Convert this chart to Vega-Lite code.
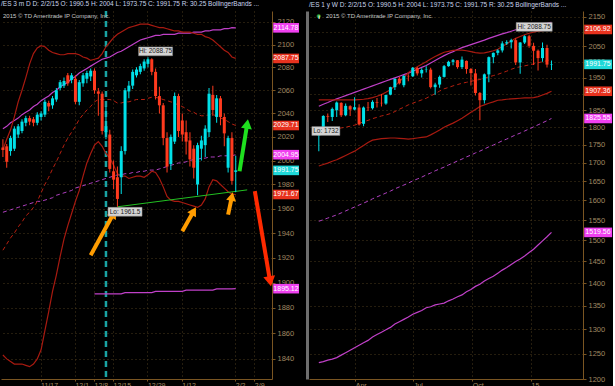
{
"$schema": "https://vega.github.io/schema/vega-lite/v6.json",
"background": "#000000",
"padding": 0,
"spacing": 37,
"bounds": "flush",
"config": {
 "view": {"stroke": null},
 "font": "Liberation Sans",
 "title": {"anchor": "start", "fontSize": 6.5, "color": "#c8d4ec", "fontWeight": "normal", "offset": 2.5, "frame": "group", "limit": 298},
 "axis": {"domainColor": "#7a5522", "tickColor": "#7a5522", "labelColor": "#a08862", "labelFont": "Liberation Sans", "gridColor": "#4a3a1c", "gridDash": [1, 3], "title": null, "tickSize": 3, "labelFlush": false, "labelOverlap": false}
},
"datasets": {
 "daily": [
{"d":"11/3","o":2011,"h":2018,"l":2003,"c":2009,"bu":2009,"bm":1926,"bl":1843,"mu":2027,"mm":1957},
{"d":"11/4","o":2012,"h":2014,"l":1994,"c":1999,"bu":2018,"bm":1931,"bl":1840,"mu":2029,"mm":1958},
{"d":"11/5","o":2008,"h":2021,"l":2004,"c":2019,"bu":2026,"bm":1936,"bl":1838,"mu":2032,"mm":1959},
{"d":"11/6","o":2010,"h":2029,"l":2008,"c":2027,"bu":2037,"bm":1940,"bl":1836,"mu":2034,"mm":1960},
{"d":"11/7","o":2022,"h":2031,"l":2019,"c":2029,"bu":2050,"bm":1945,"bl":1836,"mu":2036,"mm":1961},
{"d":"11/10","o":2025,"h":2035,"l":2023,"c":2033,"bu":2060,"bm":1949,"bl":1836,"mu":2039,"mm":1962},
{"d":"11/11","o":2032,"h":2038,"l":2029,"c":2036,"bu":2071,"bm":1954,"bl":1835,"mu":2041,"mm":1963},
{"d":"11/12","o":2036,"h":2038,"l":2030,"c":2033,"bu":2083,"bm":1957,"bl":1834,"mu":2043,"mm":1964},
{"d":"11/13","o":2035,"h":2037,"l":2029,"c":2032,"bu":2092,"bm":1961,"bl":1836,"mu":2046,"mm":1965},
{"d":"11/14","o":2032,"h":2041,"l":2030,"c":2039,"bu":2097,"bm":1966,"bl":1840,"mu":2048,"mm":1966},
{"d":"11/17","o":2037,"h":2042,"l":2034,"c":2040,"bu":2099,"bm":1973,"bl":1847,"mu":2051,"mm":1966},
{"d":"11/18","o":2039,"h":2052,"l":2037,"c":2050,"bu":2098,"bm":1980,"bl":1862,"mu":2053,"mm":1967},
{"d":"11/19","o":2049,"h":2051,"l":2042,"c":2046,"bu":2095,"bm":1986,"bl":1877,"mu":2055,"mm":1968},
{"d":"11/20","o":2047,"h":2055,"l":2044,"c":2053,"bu":2093,"bm":1993,"bl":1893,"mu":2058,"mm":1969},
{"d":"11/21","o":2052,"h":2062,"l":2050,"c":2060,"bu":2092,"bm":1999,"bl":1906,"mu":2060,"mm":1971},
{"d":"11/24","o":2062,"h":2069,"l":2060,"c":2067,"bu":2091,"bm":2006,"bl":1921,"mu":2063,"mm":1972},
{"d":"11/25","o":2064,"h":2071,"l":2062,"c":2068,"bu":2091,"bm":2013,"bl":1935,"mu":2065,"mm":1973},
{"d":"11/26","o":2073,"h":2075,"l":2064,"c":2066,"bu":2092,"bm":2019,"bl":1946,"mu":2067,"mm":1974},
{"d":"11/28","o":2069,"h":2075,"l":2066,"c":2073,"bu":2092,"bm":2024,"bl":1956,"mu":2070,"mm":1975},
{"d":"12/1","o":2070,"h":2073,"l":2048,"c":2050,"bu":2092,"bm":2029,"bl":1966,"mu":2072,"mm":1977},
{"d":"12/2","o":2050,"h":2069,"l":2047,"c":2067,"bu":2091,"bm":2035,"bl":1975,"mu":2075,"mm":1978},
{"d":"12/3","o":2066,"h":2075,"l":2063,"c":2073,"bu":2089,"bm":2039,"bl":1987,"mu":2077,"mm":1979},
{"d":"12/4","o":2070,"h":2077,"l":2066,"c":2075,"bu":2088,"bm":2043,"bl":1998,"mu":2079,"mm":1980},
{"d":"12/5","o":2072,"h":2079,"l":2068,"c":2077,"bu":2086,"bm":2046,"bl":2006,"mu":2081,"mm":1981},
{"d":"12/8","o":2077,"h":2079,"l":2057,"c":2060,"bu":2087,"bm":2050,"bl":2013,"mu":2083,"mm":1982,"ml":1891},
{"d":"12/9","o":2059,"h":2062,"l":2038,"c":2057,"bu":2088,"bm":2052,"bl":2016,"mu":2085,"mm":1983,"ml":1891},
{"d":"12/10","o":2057,"h":2059,"l":2022,"c":2025,"bu":2092,"bm":2052,"bl":2012,"mu":2087,"mm":1984,"ml":1891},
{"d":"12/11","o":2024,"h":2046,"l":2018,"c":2029,"bu":2098,"bm":2052,"bl":2006,"mu":2088,"mm":1985,"ml":1891},
{"d":"12/12","o":2022,"h":2026,"l":1990,"c":1993,"bu":2102,"bm":2052,"bl":2002,"mu":2089,"mm":1986,"ml":1891},
{"d":"12/15","o":1991,"h":2000,"l":1976,"c":1984,"bu":2106,"bm":2051,"bl":1996,"mu":2091,"mm":1987,"ml":1891},
{"d":"12/16","o":1986,"h":1995,"l":1961.5,"c":1968,"bu":2109,"bm":2049,"bl":1989,"mu":2093,"mm":1988,"ml":1891},
{"d":"12/17","o":1986,"h":2012,"l":1972,"c":2008,"bu":2111,"bm":2049,"bl":1987,"mu":2094,"mm":1988,"ml":1891},
{"d":"12/18","o":2008,"h":2062,"l":2005,"c":2060,"bu":2113,"bm":2050,"bl":1987,"mu":2096,"mm":1989,"ml":1892},
{"d":"12/19","o":2059,"h":2068,"l":2053,"c":2064,"bu":2115,"bm":2050,"bl":1985,"mu":2098,"mm":1989,"ml":1892},
{"d":"12/22","o":2064,"h":2078,"l":2061,"c":2076,"bu":2116,"bm":2051,"bl":1986,"mu":2100,"mm":1990,"ml":1892},
{"d":"12/23","o":2073,"h":2080,"l":2071,"c":2078,"bu":2117,"bm":2052,"bl":1987,"mu":2102,"mm":1990,"ml":1892},
{"d":"12/24","o":2076,"h":2083,"l":2074,"c":2081,"bu":2118,"bm":2052,"bl":1987,"mu":2104,"mm":1991,"ml":1892},
{"d":"12/26","o":2079,"h":2087,"l":2077,"c":2085,"bu":2118,"bm":2052,"bl":1986,"mu":2105,"mm":1991,"ml":1892},
{"d":"12/29","o":2083,"h":2088.75,"l":2080,"c":2087,"bu":2118,"bm":2053,"bl":1988,"mu":2106,"mm":1992,"ml":1892},
{"d":"12/30","o":2087,"h":2088,"l":2073,"c":2076,"bu":2117,"bm":2054,"bl":1991,"mu":2107,"mm":1992,"ml":1892},
{"d":"12/31","o":2076,"h":2079,"l":2052,"c":2055,"bu":2116,"bm":2054,"bl":1990,"mu":2108,"mm":1992,"ml":1893},
{"d":"1/2","o":2055,"h":2063,"l":2040,"c":2047,"bu":2115,"bm":2053,"bl":1985,"mu":2108,"mm":1993,"ml":1893},
{"d":"1/5","o":2047,"h":2049,"l":2013,"c":2019,"bu":2115,"bm":2052,"bl":1978,"mu":2109,"mm":1994,"ml":1893},
{"d":"1/6","o":2019,"h":2024,"l":1990,"c":1995,"bu":2114,"bm":2051,"bl":1970,"mu":2109,"mm":1995,"ml":1893},
{"d":"1/7","o":1997,"h":2022,"l":1992,"c":2020,"bu":2113,"bm":2050,"bl":1967,"mu":2109,"mm":1996,"ml":1893},
{"d":"1/8","o":2016,"h":2058,"l":2014,"c":2055,"bu":2112,"bm":2049,"bl":1966,"mu":2109,"mm":1997,"ml":1893},
{"d":"1/9","o":2055,"h":2057,"l":2020,"c":2025,"bu":2112,"bm":2047,"bl":1966,"mu":2110,"mm":1998,"ml":1893},
{"d":"1/12","o":2034,"h":2040,"l":2016,"c":2022,"bu":2111,"bm":2046,"bl":1965,"mu":2110,"mm":1998,"ml":1893},
{"d":"1/13","o":2024,"h":2034,"l":2005,"c":2016,"bu":2111,"bm":2044,"bl":1964,"mu":2110,"mm":1999,"ml":1894},
{"d":"1/14","o":2017,"h":2024,"l":1995,"c":2001,"bu":2111,"bm":2042,"bl":1963,"mu":2110,"mm":2000,"ml":1894},
{"d":"1/15","o":2010,"h":2013,"l":1985,"c":1994,"bu":2110,"bm":2041,"bl":1962,"mu":2111,"mm":2001,"ml":1894},
{"d":"1/16","o":1980,"h":2015,"l":1971,"c":2013,"bu":2109,"bm":2039,"bl":1961,"mu":2111,"mm":2001,"ml":1894},
{"d":"1/20","o":2010,"h":2021,"l":2000,"c":2017,"bu":2109,"bm":2038,"bl":1963,"mu":2111,"mm":2002,"ml":1894},
{"d":"1/21","o":2013,"h":2030,"l":2003,"c":2027,"bu":2107,"bm":2038,"bl":1968,"mu":2112,"mm":2002,"ml":1894},
{"d":"1/22","o":2024,"h":2062,"l":2020,"c":2057,"bu":2106,"bm":2039,"bl":1978,"mu":2112,"mm":2003,"ml":1894},
{"d":"1/23","o":2056,"h":2064,"l":2038,"c":2043,"bu":2104,"bm":2039,"bl":1984,"mu":2113,"mm":2003,"ml":1894},
{"d":"1/26","o":2037,"h":2056,"l":2032,"c":2053,"bu":2101,"bm":2038,"bl":1983,"mu":2113,"mm":2003,"ml":1895},
{"d":"1/27","o":2053,"h":2055,"l":2030,"c":2037,"bu":2098,"bm":2036,"bl":1980,"mu":2113,"mm":2004,"ml":1895},
{"d":"1/28","o":2037,"h":2040,"l":2012,"c":2023,"bu":2095,"bm":2035,"bl":1977,"mu":2114,"mm":2004,"ml":1895},
{"d":"1/29","o":1994,"h":2021,"l":1990,"c":2019,"bu":2093,"bm":2033,"bl":1974,"mu":2114,"mm":2004,"ml":1895},
{"d":"1/30","o":2019,"h":2024,"l":1980,"c":1983,"bu":2089,"bm":2031,"bl":1972,"mu":2115,"mm":2004,"ml":1895},
{"d":"2/2","o":1990.5,"h":2004,"l":1973.75,"c":1991.75,"bu":2087.75,"bm":2029.71,"bl":1971.67,"mu":2114.78,"mm":2004.95,"ml":1895.12}
 ],
 "weekly": [
{"w":"2014-02-03","o":1776,"h":1795,"l":1732,"c":1793,"ru":1881,"rm":1786,"rl":1691,"mu":1862,"mm":1547,"ml":1232},
{"w":"2014-02-10","o":1792,"h":1835,"l":1790,"c":1833,"ru":1881,"rm":1788,"rl":1695,"mu":1868,"mm":1551,"ml":1234},
{"w":"2014-02-17","o":1833,"h":1840,"l":1815,"c":1831,"ru":1881,"rm":1790,"rl":1699,"mu":1873,"mm":1555,"ml":1237},
{"w":"2014-02-24","o":1830,"h":1858,"l":1818,"c":1854,"ru":1881,"rm":1793,"rl":1704,"mu":1879,"mm":1559,"ml":1239},
{"w":"2014-03-03","o":1850,"h":1876,"l":1830,"c":1873,"ru":1881,"rm":1795,"rl":1708,"mu":1884,"mm":1563,"ml":1242},
{"w":"2014-03-10","o":1872,"h":1874,"l":1830,"c":1835,"ru":1881,"rm":1798,"rl":1714,"mu":1889,"mm":1568,"ml":1247},
{"w":"2014-03-17","o":1835,"h":1870,"l":1832,"c":1863,"ru":1881,"rm":1800,"rl":1720,"mu":1894,"mm":1573,"ml":1252},
{"w":"2014-03-24","o":1862,"h":1865,"l":1833,"c":1852,"ru":1881,"rm":1803,"rl":1726,"mu":1899,"mm":1578,"ml":1257},
{"w":"2014-03-31","o":1852,"h":1889,"l":1850,"c":1859,"ru":1881,"rm":1806,"rl":1732,"mu":1904,"mm":1583,"ml":1262},
{"w":"2014-04-07","o":1858,"h":1868,"l":1805,"c":1808,"ru":1882,"rm":1811,"rl":1740,"mu":1909,"mm":1588,"ml":1267},
{"w":"2014-04-14","o":1810,"h":1861,"l":1803,"c":1858,"ru":1883,"rm":1816,"rl":1748,"mu":1914,"mm":1593,"ml":1272},
{"w":"2014-04-21","o":1858,"h":1875,"l":1848,"c":1857,"ru":1885,"rm":1820,"rl":1756,"mu":1919,"mm":1598,"ml":1277},
{"w":"2014-04-28","o":1856,"h":1880,"l":1852,"c":1875,"ru":1888,"rm":1825,"rl":1763,"mu":1924,"mm":1604,"ml":1284},
{"w":"2014-05-05","o":1874,"h":1887,"l":1858,"c":1872,"ru":1892,"rm":1829,"rl":1765,"mu":1929,"mm":1609,"ml":1289},
{"w":"2014-05-12","o":1872,"h":1899,"l":1861,"c":1871,"ru":1897,"rm":1833,"rl":1767,"mu":1934,"mm":1614,"ml":1294},
{"w":"2014-05-19","o":1870,"h":1897,"l":1866,"c":1896,"ru":1904,"rm":1836,"rl":1768,"mu":1939,"mm":1619,"ml":1299},
{"w":"2014-05-26","o":1897,"h":1921,"l":1895,"c":1920,"ru":1912,"rm":1840,"rl":1769,"mu":1944,"mm":1624,"ml":1304},
{"w":"2014-06-02","o":1920,"h":1947,"l":1911,"c":1946,"ru":1924,"rm":1846,"rl":1769,"mu":1949,"mm":1630,"ml":1311},
{"w":"2014-06-09","o":1946,"h":1952,"l":1928,"c":1932,"ru":1937,"rm":1853,"rl":1768,"mu":1954,"mm":1635,"ml":1316},
{"w":"2014-06-16","o":1926,"h":1958,"l":1920,"c":1955,"ru":1951,"rm":1859,"rl":1767,"mu":1959,"mm":1640,"ml":1321},
{"w":"2014-06-23","o":1955,"h":1960,"l":1938,"c":1954,"ru":1965,"rm":1866,"rl":1766,"mu":1964,"mm":1645,"ml":1326},
{"w":"2014-06-30","o":1954,"h":1983,"l":1952,"c":1981,"ru":1975,"rm":1871,"rl":1767,"mu":1970,"mm":1651,"ml":1332},
{"w":"2014-07-07","o":1980,"h":1983,"l":1956,"c":1963,"ru":1984,"rm":1876,"rl":1769,"mu":1976,"mm":1656,"ml":1336},
{"w":"2014-07-14","o":1963,"h":1979,"l":1950,"c":1974,"ru":1992,"rm":1881,"rl":1771,"mu":1982,"mm":1661,"ml":1340},
{"w":"2014-07-21","o":1974,"h":1986,"l":1966,"c":1975,"ru":2000,"rm":1886,"rl":1772,"mu":1988,"mm":1667,"ml":1346},
{"w":"2014-07-28","o":1975,"h":1981,"l":1916,"c":1920,"ru":2009,"rm":1893,"rl":1778,"mu":1996,"mm":1672,"ml":1348},
{"w":"2014-08-04","o":1920,"h":1934,"l":1897,"c":1928,"ru":2017,"rm":1900,"rl":1785,"mu":2004,"mm":1678,"ml":1352},
{"w":"2014-08-11","o":1928,"h":1956,"l":1918,"c":1952,"ru":2024,"rm":1908,"rl":1792,"mu":2012,"mm":1683,"ml":1354},
{"w":"2014-08-18","o":1952,"h":1990,"l":1950,"c":1986,"ru":2031,"rm":1915,"rl":1800,"mu":2020,"mm":1688,"ml":1356},
{"w":"2014-08-25","o":1986,"h":2003,"l":1984,"c":2000,"ru":2034,"rm":1919,"rl":1806,"mu":2027,"mm":1694,"ml":1361},
{"w":"2014-09-01","o":2000,"h":2009,"l":1989,"c":2005,"ru":2037,"rm":1924,"rl":1812,"mu":2033,"mm":1699,"ml":1365},
{"w":"2014-09-08","o":2005,"h":2006,"l":1978,"c":1983,"ru":2038,"rm":1928,"rl":1819,"mu":2040,"mm":1705,"ml":1370},
{"w":"2014-09-15","o":1983,"h":2017,"l":1977,"c":2007,"ru":2038,"rm":1932,"rl":1826,"mu":2046,"mm":1710,"ml":1374},
{"w":"2014-09-22","o":2003,"h":2004,"l":1962,"c":1977,"ru":2036,"rm":1935,"rl":1835,"mu":2051,"mm":1716,"ml":1381},
{"w":"2014-09-29","o":1977,"h":1980,"l":1925,"c":1964,"ru":2033,"rm":1938,"rl":1844,"mu":2056,"mm":1721,"ml":1386},
{"w":"2014-10-06","o":1963,"h":1977,"l":1894,"c":1902,"ru":2030,"rm":1941,"rl":1852,"mu":2061,"mm":1727,"ml":1393},
{"w":"2014-10-13","o":1902,"h":1905,"l":1820,"c":1880,"ru":2028,"rm":1944,"rl":1861,"mu":2066,"mm":1732,"ml":1398},
{"w":"2014-10-20","o":1880,"h":1963,"l":1870,"c":1960,"ru":2029,"rm":1948,"rl":1866,"mu":2071,"mm":1738,"ml":1405},
{"w":"2014-10-27","o":1960,"h":2017,"l":1935,"c":2015,"ru":2032,"rm":1952,"rl":1871,"mu":2077,"mm":1744,"ml":1411},
{"w":"2014-11-03","o":2015,"h":2030,"l":1995,"c":2029,"ru":2036,"rm":1956,"rl":1875,"mu":2082,"mm":1749,"ml":1416},
{"w":"2014-11-10","o":2029,"h":2041,"l":2021,"c":2037,"ru":2041,"rm":1960,"rl":1880,"mu":2087,"mm":1755,"ml":1423},
{"w":"2014-11-17","o":2037,"h":2067,"l":2030,"c":2060,"ru":2050,"rm":1965,"rl":1881,"mu":2092,"mm":1761,"ml":1430},
{"w":"2014-11-24","o":2060,"h":2071,"l":2055,"c":2064,"ru":2059,"rm":1970,"rl":1883,"mu":2096,"mm":1766,"ml":1436},
{"w":"2014-12-01","o":2064,"h":2076,"l":2043,"c":2071,"ru":2068,"rm":1976,"rl":1884,"mu":2101,"mm":1772,"ml":1443},
{"w":"2014-12-08","o":2071,"h":2077,"l":1990,"c":1998,"ru":2077,"rm":1981,"rl":1885,"mu":2106,"mm":1778,"ml":1450},
{"w":"2014-12-15","o":1998,"h":2065,"l":1961.5,"c":2063,"ru":2083,"rm":1984,"rl":1886,"mu":2110,"mm":1783,"ml":1456},
{"w":"2014-12-22","o":2063,"h":2087,"l":2058,"c":2084,"ru":2089,"rm":1987,"rl":1887,"mu":2115,"mm":1789,"ml":1463},
{"w":"2014-12-29","o":2084,"h":2088.75,"l":2046,"c":2052,"ru":2094,"rm":1990,"rl":1887,"mu":2119,"mm":1795,"ml":1471},
{"w":"2015-01-05","o":2052,"h":2062,"l":1990,"c":2036,"ru":2098,"rm":1993,"rl":1888,"mu":2123,"mm":1801,"ml":1479},
{"w":"2015-01-12","o":2036,"h":2040,"l":1972,"c":2012,"ru":2101,"rm":1997,"rl":1891,"mu":2125,"mm":1807,"ml":1489},
{"w":"2015-01-19","o":2012,"h":2063,"l":2000,"c":2045,"ru":2103,"rm":2000,"rl":1896,"mu":2127,"mm":1813,"ml":1499},
{"w":"2015-01-26","o":2045,"h":2056,"l":1982,"c":1991,"ru":2105,"rm":2004,"rl":1901,"mu":2129,"mm":1819,"ml":1509},
{"w":"2015-02-02","o":1990.5,"h":2004,"l":1973.75,"c":1991.75,"ru":2106.92,"rm":2007.14,"rl":1907.36,"mu":2131.5,"mm":1825.55,"ml":1519.56}
 ],
 "arrows": [
{"id":"o1","k":"orange","d":"12/5","p":1922,"h":0},{"id":"o1","k":"orange","d":"12/15","p":1956,"h":1},
{"id":"o2","k":"orange","d":"1/12","p":1941.5,"h":0},{"id":"o2","k":"orange","d":"1/15","p":1958,"h":1},
{"id":"o3","k":"orange","d":"1/29","p":1955,"h":0},{"id":"o3","k":"orange","d":"1/30","p":1970,"h":1},
{"id":"g","k":"green","d":"2/3","p":1991,"h":0},{"id":"g","k":"green","d":"2/5","p":2031,"h":1},
{"id":"r","k":"red","d":"2/9","p":1974.5,"h":0},{"id":"r","k":"red","d":"2/13","p":1901,"h":1}
 ],
 "trend": [{"d":"12/16","p":1961.5},{"d":"2/5","p":1975.5}],
 "labL": [{"d":"12/31","p":2094,"t":"Hi: 2088.75"},{"d":"12/18","p":1957.4,"t":"Lo: 1961.5"}],
 "labR": [{"w":"2015-01-06","p":2115.5,"t":"Hi: 2088.75","s":"hi"},{"w":"2014-02-14","p":1789,"t":"Lo: 1732","s":"lo"}],
 "tagsL": [{"p":2114.78,"k":"m"},{"p":2087.75,"k":"r"},{"p":2029.71,"k":"r"},{"p":2004.95,"k":"m"},{"p":1991.75,"k":"c"},{"p":1971.67,"k":"r"},{"p":1895.12,"k":"m"}],
 "tagsR": [{"p":2106.92,"k":"r"},{"p":1991.75,"k":"c"},{"p":1907.36,"k":"r"},{"p":1825.55,"k":"m"},{"p":1519.56,"k":"m"}]
},
"hconcat": [
{
 "width": 271, "height": 368,
 "title": "/ES 3 m D   D: 2/2/15   O: 1990.5   H: 2004   L: 1973.75   C: 1991.75   R: 30.25   BollingerBands ...",
 "layer": [
  {"data": {"values": [{"d": "12/11"}]},
   "mark": {"type": "rule", "color": "#1aa3a3", "strokeWidth": 2.5, "strokeDash": [6, 4]},
   "encoding": {"x": {"field": "d", "type": "ordinal", "bandPosition": 0.5,
     "scale": {"type": "band", "paddingInner": 0, "paddingOuter": 0, "domain": ["11/3","11/4","11/5","11/6","11/7","11/10","11/11","11/12","11/13","11/14","11/17","11/18","11/19","11/20","11/21","11/24","11/25","11/26","11/28","12/1","12/2","12/3","12/4","12/5","12/8","12/9","12/10","12/11","12/12","12/15","12/16","12/17","12/18","12/19","12/22","12/23","12/24","12/26","12/29","12/30","12/31","1/2","1/5","1/6","1/7","1/8","1/9","1/12","1/13","1/14","1/15","1/16","1/20","1/21","1/22","1/23","1/26","1/27","1/28","1/29","1/30","2/2","2/3","2/4","2/5","2/6","2/9","2/10","2/11","2/12","2/13"]},
     "axis": {"values": ["11/17","12/1","12/8","12/15","12/29","1/12","2/2","2/9"], "labelAlign": "left", "labelFontSize": 7, "labelPadding": 0, "tickSize": 2, "grid": true, "labelAngle": 0}}}},
  {"data": {"name": "daily"},
   "mark": {"type": "line", "color": "#c040c8", "strokeWidth": 1.2},
   "encoding": {"x": {"field": "d", "type": "ordinal", "bandPosition": 0.5},
     "y": {"field": "mu", "type": "quantitative", "scale": {"type": "log", "domain": [1824.5, 2129.8], "nice": false, "zero": false},
       "axis": {"orient": "right", "values": [1840,1860,1880,1900,1920,1940,1960,1980,2000,2020,2040,2060,2080,2100,2120], "format": "d", "labelFontSize": 7.5, "labelPadding": 2, "grid": true}},
     "order": {"value": null}}},
  {"data": {"name": "daily"},
   "mark": {"type": "line", "color": "#b040c0", "strokeWidth": 1, "strokeDash": [4, 3]},
   "encoding": {"x": {"field": "d", "type": "ordinal", "bandPosition": 0.5}, "y": {"field": "mm", "type": "quantitative"}, "order": {"value": null}}},
  {"data": {"name": "daily"},
   "mark": {"type": "line", "color": "#c040c8", "strokeWidth": 1.2},
   "encoding": {"x": {"field": "d", "type": "ordinal", "bandPosition": 0.5}, "y": {"field": "ml", "type": "quantitative"}, "order": {"value": null}}},
  {"data": {"name": "daily"},
   "mark": {"type": "line", "color": "#a81a10", "strokeWidth": 1.2},
   "encoding": {"x": {"field": "d", "type": "ordinal", "bandPosition": 0.5}, "y": {"field": "bu", "type": "quantitative"}, "order": {"value": null}}},
  {"data": {"name": "daily"},
   "mark": {"type": "line", "color": "#b82010", "strokeWidth": 1, "strokeDash": [4, 3]},
   "encoding": {"x": {"field": "d", "type": "ordinal", "bandPosition": 0.5}, "y": {"field": "bm", "type": "quantitative"}, "order": {"value": null}}},
  {"data": {"name": "daily"},
   "mark": {"type": "line", "color": "#a81a10", "strokeWidth": 1.2},
   "encoding": {"x": {"field": "d", "type": "ordinal", "bandPosition": 0.5}, "y": {"field": "bl", "type": "quantitative"}, "order": {"value": null}}},
  {"data": {"name": "trend"},
   "mark": {"type": "line", "color": "#22c022", "strokeWidth": 1},
   "encoding": {"x": {"field": "d", "type": "ordinal", "bandPosition": 0.5}, "y": {"field": "p", "type": "quantitative"}, "order": {"value": null}}},
  {"data": {"name": "daily"},
   "mark": {"type": "bar", "size": 1},
   "encoding": {"x": {"field": "d", "type": "ordinal"}, "y": {"field": "l", "type": "quantitative"}, "y2": {"field": "h"},
     "color": {"condition": {"test": "datum.c >= datum.o", "value": "#00e0e8"}, "value": "#ff3a1e"}}},
  {"data": {"name": "daily"},
   "mark": {"type": "bar", "size": 3},
   "encoding": {"x": {"field": "d", "type": "ordinal"}, "y": {"field": "o", "type": "quantitative"}, "y2": {"field": "c"},
     "color": {"condition": {"test": "datum.c >= datum.o", "value": "#00e0e8"}, "value": "#ff3a1e"}}},
  {"data": {"name": "arrows"},
   "mark": {"type": "line", "strokeWidth": 4},
   "encoding": {"x": {"field": "d", "type": "ordinal", "bandPosition": 0.5}, "y": {"field": "p", "type": "quantitative"},
     "detail": {"field": "id"},
     "stroke": {"field": "k", "type": "nominal", "scale": {"domain": ["orange", "green", "red"], "range": ["#ff9c00", "#1fe01f", "#ff2a00"]}, "legend": null},
     "order": {"value": null}}},
  {"data": {"name": "arrows"}, "transform": [{"filter": "datum.id == 'o1' && datum.h == 1"}],
   "mark": {"type": "point", "shape": "triangle-up", "filled": true, "opacity": 1, "size": 110, "angle": 29, "color": "#ff9c00"},
   "encoding": {"x": {"field": "d", "type": "ordinal", "bandPosition": 0.5}, "y": {"field": "p", "type": "quantitative"}}},
  {"data": {"name": "arrows"}, "transform": [{"filter": "datum.id == 'o2' && datum.h == 1"}],
   "mark": {"type": "point", "shape": "triangle-up", "filled": true, "opacity": 1, "size": 100, "angle": 30, "color": "#ff9c00"},
   "encoding": {"x": {"field": "d", "type": "ordinal", "bandPosition": 0.5}, "y": {"field": "p", "type": "quantitative"}}},
  {"data": {"name": "arrows"}, "transform": [{"filter": "datum.id == 'o3' && datum.h == 1"}],
   "mark": {"type": "point", "shape": "triangle-up", "filled": true, "opacity": 1, "size": 100, "angle": 11, "color": "#ff9c00"},
   "encoding": {"x": {"field": "d", "type": "ordinal", "bandPosition": 0.5}, "y": {"field": "p", "type": "quantitative"}}},
  {"data": {"name": "arrows"}, "transform": [{"filter": "datum.id == 'g' && datum.h == 1"}],
   "mark": {"type": "point", "shape": "triangle-up", "filled": true, "opacity": 1, "size": 120, "angle": 9, "color": "#1fe01f"},
   "encoding": {"x": {"field": "d", "type": "ordinal", "bandPosition": 0.5}, "y": {"field": "p", "type": "quantitative"}}},
  {"data": {"name": "arrows"}, "transform": [{"filter": "datum.id == 'r' && datum.h == 1"}],
   "mark": {"type": "point", "shape": "triangle-up", "filled": true, "opacity": 1, "size": 140, "angle": 170, "color": "#ff2a00"},
   "encoding": {"x": {"field": "d", "type": "ordinal", "bandPosition": 0.5}, "y": {"field": "p", "type": "quantitative"}}},
  {"data": {"name": "labL"},
   "mark": {"type": "point", "shape": "M-0.85,-0.22H0.85V0.22H-0.85Z", "size": 1600, "filled": true, "opacity": 1, "color": "#d4d4d4", "stroke": "#8a8a8a", "strokeWidth": 0.5},
   "encoding": {"x": {"field": "d", "type": "ordinal", "bandPosition": 0.5}, "y": {"field": "p", "type": "quantitative"}}},
  {"data": {"name": "labL"},
   "mark": {"type": "text", "fontSize": 6.5, "color": "#1a1a1a", "baseline": "middle"},
   "encoding": {"x": {"field": "d", "type": "ordinal", "bandPosition": 0.5}, "y": {"field": "p", "type": "quantitative"}, "text": {"field": "t"}}},
  {"data": {"name": "tagsL"},
   "mark": {"type": "point", "shape": "M0.04,-0.16H0.9V0.16H0.04Z", "size": 3600, "filled": true, "opacity": 1},
   "encoding": {"x": {"value": "width"}, "y": {"field": "p", "type": "quantitative"},
     "fill": {"field": "k", "type": "nominal", "scale": {"domain": ["m", "r", "c"], "range": ["#f040f0", "#e8321e", "#1ed8d8"]}, "legend": null}}},
  {"data": {"name": "tagsL"},
   "mark": {"type": "text", "fontSize": 7, "color": "#ffffff", "align": "center", "baseline": "middle", "dx": 14},
   "encoding": {"x": {"value": "width"}, "y": {"field": "p", "type": "quantitative"}, "text": {"field": "p", "type": "quantitative", "format": ".2f"}}},
  {"data": {"values": [{"t": "2015 © TD Ameritrade IP Company, Inc."}]},
   "mark": {"type": "text", "align": "left", "baseline": "top", "dx": 2, "dy": 2, "fontSize": 6, "color": "#c8c8c8"},
   "encoding": {"x": {"datum": "11/3", "type": "ordinal", "bandPosition": 0}, "y": {"datum": 2129.8, "type": "quantitative"}, "text": {"field": "t"}}}
 ]
},
{
 "width": 274, "height": 368,
 "title": "/ES 1 y W   D: 2/2/15   O: 1990.5   H: 2004   L: 1973.75   C: 1991.75   R: 30.25   BollingerBands ...",
 "resolve": {"axis": {"y": "independent"}},
 "layer": [
  {
   "layer": [
    {"data": {"name": "weekly"},
     "mark": {"type": "line", "color": "#c040c8", "strokeWidth": 1.2},
     "encoding": {"x": {"field": "w", "type": "temporal",
        "scale": {"type": "utc", "domain": [{"year": 2014, "month": 1, "date": 26, "hours": 11, "utc": true}, {"year": 2015, "month": 3, "date": 15, "hours": 12, "utc": true}]},
        "axis": {"values": [{"year": 2014, "month": 4, "date": 1, "utc": true}, {"year": 2014, "month": 7, "date": 1, "utc": true}, {"year": 2014, "month": 10, "date": 1, "utc": true}, {"year": 2015, "month": 1, "date": 1, "utc": true}],
          "labelExpr": "utcmonth(datum.value) == 0 ? utcFormat(datum.value, '%y') : utcFormat(datum.value, '%b')",
          "labelAlign": "left", "labelFontSize": 7, "labelPadding": 0, "tickSize": 2, "grid": true}},
       "y": {"field": "mu", "type": "quantitative", "scale": {"type": "log", "domain": [1200, 2170.5], "nice": false, "zero": false},
         "axis": {"orient": "right", "values": [1200,1250,1300,1350,1400,1450,1500,1550,1600,1650,1700,1750,1800,1850,1900,1950,2000,2050,2100,2150], "format": "d", "labelFontSize": 7.5, "labelPadding": 2, "grid": true}}}},
    {"data": {"name": "weekly"},
     "mark": {"type": "line", "color": "#b040c0", "strokeWidth": 1, "strokeDash": [4, 3]},
     "encoding": {"x": {"field": "w", "type": "temporal"}, "y": {"field": "mm", "type": "quantitative"}}},
    {"data": {"name": "weekly"},
     "mark": {"type": "line", "color": "#c040c8", "strokeWidth": 1.2},
     "encoding": {"x": {"field": "w", "type": "temporal"}, "y": {"field": "ml", "type": "quantitative"}}},
    {"data": {"name": "weekly"},
     "mark": {"type": "line", "color": "#a81a10", "strokeWidth": 1.2},
     "encoding": {"x": {"field": "w", "type": "temporal"}, "y": {"field": "ru", "type": "quantitative"}}},
    {"data": {"name": "weekly"},
     "mark": {"type": "line", "color": "#b82010", "strokeWidth": 1, "strokeDash": [4, 3]},
     "encoding": {"x": {"field": "w", "type": "temporal"}, "y": {"field": "rm", "type": "quantitative"}}},
    {"data": {"name": "weekly"},
     "mark": {"type": "line", "color": "#a81a10", "strokeWidth": 1.2},
     "encoding": {"x": {"field": "w", "type": "temporal"}, "y": {"field": "rl", "type": "quantitative"}}},
    {"data": {"name": "weekly"},
     "mark": {"type": "bar", "size": 1},
     "encoding": {"x": {"field": "w", "type": "temporal"}, "y": {"field": "l", "type": "quantitative"}, "y2": {"field": "h"},
       "color": {"condition": {"test": "datum.c >= datum.o", "value": "#00e0e8"}, "value": "#ff3a1e"}}},
    {"data": {"name": "weekly"},
     "mark": {"type": "bar", "size": 3},
     "encoding": {"x": {"field": "w", "type": "temporal"}, "y": {"field": "o", "type": "quantitative"}, "y2": {"field": "c"},
       "color": {"condition": {"test": "datum.c >= datum.o", "value": "#00e0e8"}, "value": "#ff3a1e"}}},
    {"data": {"name": "labR"}, "transform": [{"filter": "datum.s == 'hi'"}],
     "mark": {"type": "point", "shape": "M-0.9,-0.22H0.9V0.22H-0.9Z", "size": 1600, "filled": true, "opacity": 1, "color": "#d4d4d4", "stroke": "#8a8a8a", "strokeWidth": 0.5},
     "encoding": {"x": {"field": "w", "type": "temporal"}, "y": {"field": "p", "type": "quantitative"}}},
    {"data": {"name": "labR"}, "transform": [{"filter": "datum.s == 'lo'"}],
     "mark": {"type": "point", "shape": "M-0.7,-0.22H0.7V0.22H-0.7Z", "size": 1600, "filled": true, "opacity": 1, "color": "#d4d4d4", "stroke": "#8a8a8a", "strokeWidth": 0.5},
     "encoding": {"x": {"field": "w", "type": "temporal"}, "y": {"field": "p", "type": "quantitative"}}},
    {"data": {"name": "labR"},
     "mark": {"type": "text", "fontSize": 6.5, "color": "#1a1a1a", "baseline": "middle"},
     "encoding": {"x": {"field": "w", "type": "temporal"}, "y": {"field": "p", "type": "quantitative"}, "text": {"field": "t"}}},
    {"data": {"name": "tagsR"},
     "mark": {"type": "point", "shape": "M0.04,-0.16H0.97V0.16H0.04Z", "size": 3600, "filled": true, "opacity": 1},
     "encoding": {"x": {"value": "width"}, "y": {"field": "p", "type": "quantitative"},
       "fill": {"field": "k", "type": "nominal", "scale": {"domain": ["m", "r", "c"], "range": ["#f040f0", "#e8321e", "#1ed8d8"]}, "legend": null}}},
    {"data": {"name": "tagsR"},
     "mark": {"type": "text", "fontSize": 7, "color": "#ffffff", "align": "center", "baseline": "middle", "dx": 15},
     "encoding": {"x": {"value": "width"}, "y": {"field": "p", "type": "quantitative"}, "text": {"field": "p", "type": "quantitative", "format": ".2f"}}},
    {"data": {"values": [{"t": "●"}]},
     "mark": {"type": "text", "align": "left", "baseline": "top", "dx": 2, "dy": 1, "fontSize": 9, "color": "#2fa02f"},
     "encoding": {"x": {"datum": {"year": 2014, "month": 1, "date": 26, "hours": 11, "utc": true}, "type": "temporal"}, "y": {"datum": 2170.5, "type": "quantitative"}, "text": {"field": "t"}}},
    {"data": {"values": [{"t": "i"}]},
     "mark": {"type": "text", "align": "center", "baseline": "top", "dx": 5, "dy": 2.5, "fontSize": 6, "fontWeight": "bold", "color": "#ffffff"},
     "encoding": {"x": {"datum": {"year": 2014, "month": 1, "date": 26, "hours": 11, "utc": true}, "type": "temporal"}, "y": {"datum": 2170.5, "type": "quantitative"}, "text": {"field": "t"}}},
    {"data": {"values": [{"t": "2015 © TD Ameritrade IP Company, Inc."}]},
     "mark": {"type": "text", "align": "left", "baseline": "top", "dx": 12, "dy": 2, "fontSize": 6, "color": "#c8c8c8"},
     "encoding": {"x": {"datum": {"year": 2014, "month": 1, "date": 26, "hours": 11, "utc": true}, "type": "temporal"}, "y": {"datum": 2170.5, "type": "quantitative"}, "text": {"field": "t"}}}
   ]
  },
  {"data": {"values": [{"p": 1500}]},
   "mark": {"type": "point", "opacity": 0},
   "encoding": {"y": {"field": "p", "type": "quantitative",
     "axis": {"orient": "left", "labels": false, "ticks": false, "grid": false, "domainColor": "#6e6e6e", "domainWidth": 3, "offset": 2, "title": null, "minExtent": 0, "maxExtent": 0}}}}
 ]
}
]
}
